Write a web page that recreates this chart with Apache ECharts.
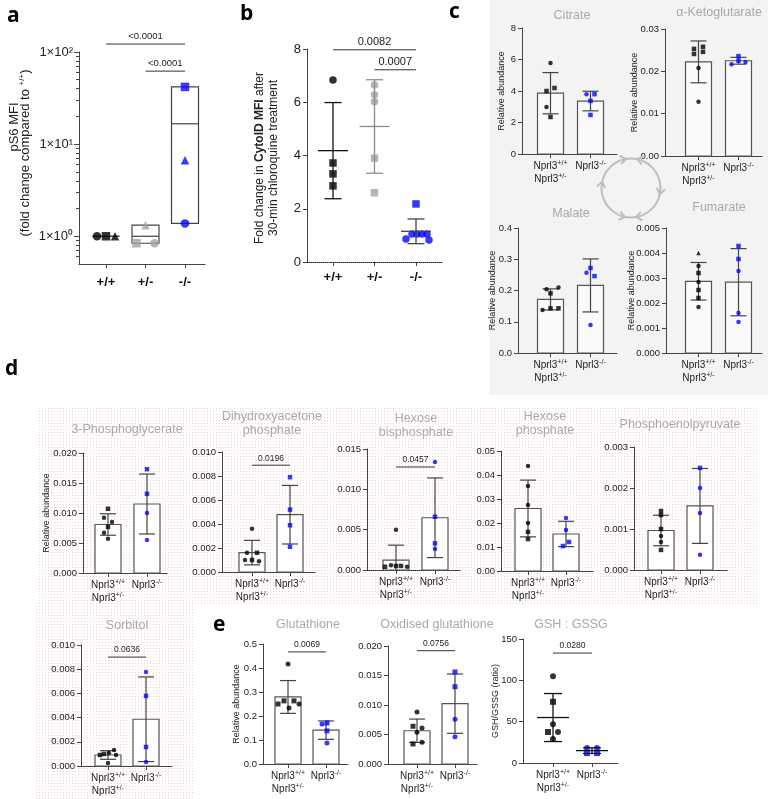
<!DOCTYPE html>
<html><head><meta charset="utf-8">
<script src="https://cdn.jsdelivr.net/npm/echarts@6.0.0/dist/echarts.min.js"></script>
<style>html,body{margin:0;padding:0;background:#fff;}#chart{width:768px;height:799px;}</style>
</head><body><div id="chart"></div>
<script>
// ================= DATA =================
const genotypes = ['+/+', '+/-', '-/-'];

// a: pS6 MFI, fold change compared to +/+ (log axis)
const pS6WT  = [1, 1, 1];
const pS6Het = [1.32, 0.84, 0.84];
const pS6KO  = [41.8, 6.7, 1.38];
const pS6Ticks = [1, 10, 100];
const pS6MinorTicks = [0.6, 0.7, 0.8, 0.9, 2, 3, 4, 5, 6, 7, 8, 9, 20, 30, 40, 50, 60, 70, 80, 90];
const pS6Sig = ['<0.0001', '<0.0001'];

// b: CytoID MFI fold change after chloroquine
const cytoWT  = [6.84, 3.72, 3.31, 2.86];
const cytoHet = [6.65, 6.28, 6.02, 3.9, 2.6];
const cytoKO  = [2.18, 0.86, 1.05, 1.05, 1.05, 1.05, 0.83];
const cytoSig = ['0.0082', '0.0007'];

// c: TCA metabolites (control = Nprl3+/+ & Nprl3+/-, KO = Nprl3-/-)
const citrateCtl  = [5.78, 4.0, 4.19, 2.98, 2.35];
const citrateKO   = [3.8, 3.8, 3.37, 2.48];
const akgCtl      = [0.0253, 0.0258, 0.0246, 0.0241, 0.0208, 0.0128];
const akgKO       = [0.0217, 0.0236, 0.0225, 0.0222];
const malateCtl   = [0.191, 0.21, 0.204, 0.138, 0.143, 0.143];
const malateKO    = [0.257, 0.272, 0.246, 0.09];
const fumarateCtl = [0.004, 0.00348, 0.0032, 0.00284, 0.00252, 0.0022, 0.00184];
const fumarateKO  = [0.00428, 0.00376, 0.00328, 0.0016, 0.00124];

// d: glycolysis metabolites
const pgCtl   = [0.0107, 0.0092, 0.0085, 0.0077, 0.0067, 0.0057];
const pgKO    = [0.0173, 0.0132, 0.01, 0.0055];
const dhapCtl = [0.0036, 0.0016, 0.0016, 0.001, 0.001, 0.0009];
const dhapKO  = [0.0079, 0.0052, 0.0039, 0.0021];
const hbpCtl  = [0.005, 0.0004, 0.0006, 0.0005, 0.0005, 0.0004];
const hbpKO   = [0.0134, 0.0066, 0.0033, 0.0026];
const hpCtl   = [0.0438, 0.0354, 0.0275, 0.02, 0.0163, 0.0133];
const hpKO    = [0.0221, 0.0171, 0.0121, 0.0104];
const pepCtl  = [0.00144, 0.00134, 0.001, 0.00083, 0.00068, 0.00049];
const pepKO   = [0.00249, 0.002, 0.00139, 0.00037];
const sorbCtl = [0.00132, 0.00091, 0.001, 0.00107, 0.00091, 0.00025];
const sorbKO  = [0.00777, 0.00579, 0.00157, 0.00033];

// e: glutathione
const glutCtl   = [0.417, 0.25, 0.263, 0.263, 0.25, 0.233];
const glutKO    = [0.167, 0.171, 0.138, 0.088];
const oxglutCtl = [0.0088, 0.0064, 0.0061, 0.0054, 0.0034, 0.0037];
const oxglutKO  = [0.0156, 0.0131, 0.0076, 0.0046];
const gshCtl    = [105, 74, 47, 37.5, 37.5, 29];
const gshKO     = [18, 18, 12, 12];

// p-values
const pDhap = '0.0196', pHbp = '0.0457', pSorb = '0.0636', pGlut = '0.0069', pOx = '0.0756', pGsh = '0.0280';

// ================= MARKER SHAPES (c circle, s square, t triangle) =================
const shapes = {
  a: ['cst', 'tsc', 'stc'],
  b: ['csss', 'cccss', 'scccccc'],
  citrate: ['csscs', 'csss'],
  akg: ['sssscc', 'cssc'], malate: ['scccss', 'cssc'],
  fumarate: ['tcscssc', 'ssccc'],
  pg: ['sccscc', 'sscc'], dhap: ['ccscsc', 'ssss'], hbp: ['cscssc', 'cssc'],
  hp: ['ccccss', 'ccss'], pep: ['sssccs', 'sccc'], sorb: ['cssccc', 'cssc'],
  glut: ['csssc c'.replace(' ', ''), 'cssc'], oxglut: ['csccsc', 'sscc'], gsh: ['cscscc', 'ccss']
};
// horizontal jitter of points, in pixels from the group centre
const jitter = {
  a: [[-9, 0, 9], [0, -9, 9], [0, 0, 0]],
  b: [[0, 0, 0, 0], [0, 0, 0, 0, 0], [0, -10, -4, 1, 6, 11, 13]],
  citrate: [[0, -4, 4, -4, 0], [-4, 4, 0, 0]],
  akg: [[-4.5, 4.5, 4.5, -4.5, 0, 0], [-7, 0, 0, 7]],
  malate: [[0, 8, -4, -8, 0, 8], [-4, 0, 4, 0]],
  fumarate: [[0, 0, 0, 0, 0, 0, 0], [0, 0, 0, 0, 0]],
  pg: [[0, -4, 4, 0, -4, 0], [0, 0, 0, 0]],
  dhap: [[0, -5, 5, -7, 0, 7], [0, 0, 0, 0]],
  hbp: [[0, -11, -5, 0, 5, 11], [0, 0, 0, 0]],
  hp: [[0, 0, 0, 0, 0, 0], [0, 0, 3, -3]],
  pep: [[0, 0, 0, 0, 0, 0], [0, 0, 0, 0]],
  sorb: [[6, -8, -4, 1, 8, 0], [0, 0, 0, 0]],
  glut: [[0, -10, -4, 6, 11, 1], [-4, 1, 1, 1]],
  oxglut: [[0, -4, 5, 0, -4, 5], [0, 0, 0, 0]],
  gsh: [[0, 0, 0, -5, 5, 0], [-5, 5, -5, 5]]
};

// ================= LAYOUT (pixel frame of each plot) =================
const L = {
  a:        {ax: 79,  right: 205, cx: [106, 145.5, 185], top: 52,  bottom: 264},
  b:        {ax: 307, right: 443, cx: [333, 374.5, 416], top: 49,  bottom: 262},
  citrate:  {ax: 522, right: 617, cx: [550.5, 590.5], top: 28,  bottom: 154},
  akg:      {ax: 665, right: 762, cx: [698.5, 738.5], top: 29,  bottom: 156},
  malate:   {ax: 518, right: 617, cx: [550.5, 590.5], top: 228, bottom: 353},
  fumarate: {ax: 666, right: 762, cx: [698.5, 738.5], top: 228, bottom: 353},
  pg:       {ax: 83,  right: 167, cx: [108, 147], top: 453, bottom: 573},
  dhap:     {ax: 222, right: 315, cx: [252, 290], top: 452, bottom: 572},
  hbp:      {ax: 367, right: 460, cx: [396, 435], top: 449, bottom: 570},
  hp:       {ax: 501, right: 593, cx: [528, 566], top: 451, bottom: 571},
  pep:      {ax: 634, right: 727, cx: [661, 700], top: 447, bottom: 570},
  sorb:     {ax: 81,  right: 172, cx: [108, 146], top: 645, bottom: 766},
  glut:     {ax: 263, right: 348, cx: [288, 326], top: 644, bottom: 764},
  oxglut:   {ax: 388, right: 477, cx: [417, 455], top: 646, bottom: 764},
  gsh:      {ax: 523, right: 618, cx: [553, 592], top: 639, bottom: 763}
};

// ================= BUILD =================
const F = '"Liberation Sans", Arial, Helvetica, sans-serif';
const FB = '"Open Sans", "Liberation Sans", Arial, sans-serif';
const BLUE = '#0505ff', BLACK = '#000000', GREY = '#a3a3a3', AX = '#444444', TITLE = '#a9a9a9';
const SYM = {c: 'circle', s: 'rect', t: 'triangle'};
const mean = a => a.reduce((s, v) => s + v, 0) / a.length;
const sd = a => { const m = mean(a); return Math.sqrt(a.reduce((s, v) => s + (v - m) * (v - m), 0) / (a.length - 1)); };

const option = {animation: false, backgroundColor: '#ffffff', textStyle: {fontFamily: F},
  grid: [], xAxis: [], yAxis: [], series: [], graphic: []};

function addGrid(lay, yCfg, xCfg) {
  const idx = option.grid.length;
  const n = lay.cx.length;
  const unit = (lay.cx[n - 1] - lay.cx[0]) / (n - 1);
  const cats = Array.from({length: n}, (_, i) => i);
  option.grid.push({left: lay.ax, top: lay.top, width: lay.right - lay.ax, height: lay.bottom - lay.top});
  option.xAxis.push(Object.assign({
    gridIndex: idx, type: 'value',
    min: -(lay.cx[0] - lay.ax) / unit, max: (n - 1) + (lay.right - lay.cx[n - 1]) / unit,
    axisLine: {show: true, onZero: false, lineStyle: {color: AX, width: 1}},
    axisTick: {show: true, length: 4, lineStyle: {color: AX}, customValues: cats},
    splitLine: {show: false}
  }, xCfg));
  option.yAxis.push(Object.assign({
    gridIndex: idx, type: 'value', position: 'left',
    axisLine: {show: true, onZero: false, lineStyle: {color: AX, width: 1}},
    axisTick: {show: true, length: 4, lineStyle: {color: AX}},
    splitLine: {show: false}
  }, yCfg));
  return {idx, unit};
}

const nprlRich = {
  n: {fontSize: 10, fontFamily: F, color: '#222', lineHeight: 13},
  s: {fontSize: 7, fontFamily: F, color: '#222', lineHeight: 7, verticalAlign: 'top'}
};
const nprlLabel = v => v === 0 ? '{n|Nprl3}{s|+/+}\n{n|Nprl3}{s|+/-}' : (v === 1 ? '{n|Nprl3}{s|-/-}' : '');

function scatterSeries(idx, unit, groups, shp, jit, colors, size) {
  groups.forEach((g, i) => option.series.push({
    type: 'scatter', xAxisIndex: idx, yAxisIndex: idx, z: 5, silent: true, symbolSize: size,
    itemStyle: {color: colors[i]},
    data: g.map((v, k) => ({value: [i + jit[i][k] / unit, v], symbol: SYM[shp[i][k]]}))
  }));
}

function bracket(idx, x1, x2, y, text, fs) {
  option.series.push({
    type: 'custom', xAxisIndex: idx, yAxisIndex: idx, silent: true, z: 6, clip: false,
    data: [[x1, x2, y]],
    renderItem: (p, api) => {
      const a = api.coord([api.value(0), api.value(2)]);
      const b = api.coord([api.value(1), api.value(2)]);
      return {type: 'group', children: [
        {type: 'line', shape: {x1: a[0], y1: a[1], x2: b[0], y2: b[1]}, style: {stroke: '#333', lineWidth: 1}},
        {type: 'text', x: (a[0] + b[0]) / 2, y: a[1] - 2.5,
          style: {text: text, fontSize: fs, fontFamily: F, fill: '#222', align: 'center', verticalAlign: 'bottom'}}
      ]};
    }
  });
}

function barPanel(key, ctl, ko, yMax, step, dec, opts) {
  opts = opts || {};
  const lay = L[key];
  const {idx, unit} = addGrid(lay,
    {min: 0, max: yMax, interval: step,
     axisLabel: {formatter: v => v.toFixed(dec), fontSize: 9.5, color: '#222', margin: 6, fontFamily: F}},
    {axisLabel: {customValues: [0, 1], formatter: nprlLabel, rich: nprlRich, margin: 6, interval: 0},
     axisLine: {show: true, onZero: false, lineStyle: {color: opts.dotted ? '#222' : AX, width: 1, type: opts.dotted ? 'dotted' : 'solid'}}});
  const groups = [ctl, ko];
  option.series.push({
    type: 'custom', xAxisIndex: idx, yAxisIndex: idx, silent: true, z: 2, clip: false,
    data: groups.map((g, i) => [i, mean(g), sd(g)]),
    renderItem: (p, api) => {
      const x = api.value(0), m = api.value(1), s = api.value(2);
      const p0 = api.coord([x, 0]), pm = api.coord([x, m]);
      const pt = api.coord([x, m + s]), pb = api.coord([x, Math.max(m - s, 0)]);
      const bw = 26, cw = 16;
      const ch = [
        {type: 'rect', shape: {x: p0[0] - bw / 2, y: pm[1], width: bw, height: p0[1] - pm[1]},
          style: {fill: opts.fill || '#ffffff', stroke: '#555', lineWidth: 1.2}},
        {type: 'line', shape: {x1: pt[0], y1: pt[1], x2: pb[0], y2: pb[1]}, style: {stroke: '#444', lineWidth: 1.2}},
        {type: 'line', shape: {x1: pt[0] - cw / 2, y1: pt[1], x2: pt[0] + cw / 2, y2: pt[1]}, style: {stroke: '#444', lineWidth: 1.2}}
      ];
      if (m - s > 0) ch.push({type: 'line', shape: {x1: pb[0] - cw / 2, y1: pb[1], x2: pb[0] + cw / 2, y2: pb[1]}, style: {stroke: '#444', lineWidth: 1.2}});
      return {type: 'group', children: ch};
    }
  });
  scatterSeries(idx, unit, groups, shapes[key], jitter[key], [BLACK, BLUE], opts.size || 4.5);
  if (opts.sig) bracket(idx, 0, 1, opts.sigY, opts.sig, 8.5);
  return idx;
}

function meanSdRender(colors, lineW, capW, lw) {
  return (p, api) => {
    const x = api.value(0), m = api.value(1), s = api.value(2);
    const pm = api.coord([x, m]), pt = api.coord([x, m + s]), pb = api.coord([x, m - s]);
    const st = {stroke: colors[p.dataIndex], lineWidth: lw};
    return {type: 'group', children: [
      {type: 'line', shape: {x1: pm[0] - lineW / 2, y1: pm[1], x2: pm[0] + lineW / 2, y2: pm[1]}, style: st},
      {type: 'line', shape: {x1: pt[0], y1: pt[1], x2: pb[0], y2: pb[1]}, style: st},
      {type: 'line', shape: {x1: pt[0] - capW / 2, y1: pt[1], x2: pt[0] + capW / 2, y2: pt[1]}, style: st},
      {type: 'line', shape: {x1: pb[0] - capW / 2, y1: pb[1], x2: pb[0] + capW / 2, y2: pb[1]}, style: st}
    ]};
  };
}

// ---------- panel a ----------
let gridA = 0;
(function () {
  const supDigits = ['⁰', '¹', '²', '³'];
  const {idx, unit} = addGrid(L.a,
    {type: 'log', logBase: 10, min: 0.5, max: 100,
     axisTick: {show: true, length: 5, lineStyle: {color: AX}, customValues: pS6Ticks},
     axisLabel: {customValues: pS6Ticks, fontSize: 13, color: '#222', margin: 6,
       formatter: v => '1×10' + supDigits[Math.round(Math.log10(v))]}},
    {axisLabel: {customValues: [0, 1, 2], formatter: v => genotypes[v] || '', fontSize: 13, fontWeight: 'bold', color: '#111', margin: 12}});
  gridA = idx;
  const groups = [pS6WT, pS6Het, pS6KO];
  option.series.push({
    type: 'custom', xAxisIndex: idx, yAxisIndex: idx, silent: true, z: 2, clip: false,
    data: groups.map((g, i) => [i, Math.min(...g), Math.max(...g), mean(g)]),
    renderItem: (p, api) => {
      const x = api.value(0);
      const lo = api.coord([x, api.value(1)]), hi = api.coord([x, api.value(2)]), mn = api.coord([x, api.value(3)]);
      const bw = 27;
      return {type: 'group', children: [
        {type: 'rect', shape: {x: lo[0] - bw / 2, y: hi[1], width: bw, height: lo[1] - hi[1]}, style: {fill: 'none', stroke: '#444', lineWidth: 1.2}},
        {type: 'line', shape: {x1: mn[0] - bw / 2, y1: mn[1], x2: mn[0] + bw / 2, y2: mn[1]}, style: {stroke: '#444', lineWidth: 1.2}}
      ]};
    }
  });
  scatterSeries(idx, unit, groups, shapes.a, jitter.a, [BLACK, GREY, BLUE], 8.5);
  bracket(idx, 0, 2, 122, pS6Sig[0], 9.5);
  bracket(idx, 1, 2, 62, pS6Sig[1], 9.5);
})();

// ---------- panel b ----------
(function () {
  const {idx, unit} = addGrid(L.b,
    {min: 0, max: 8, interval: 2, axisLabel: {fontSize: 13, color: '#222', margin: 6}},
    {axisLabel: {customValues: [0, 1, 2], formatter: v => genotypes[v] || '', fontSize: 13, fontWeight: 'bold', color: '#111', margin: 9},
     axisLine: {show: true, onZero: false, lineStyle: {color: '#222', width: 1, type: 'dotted'}}});
  const groups = [cytoWT, cytoHet, cytoKO];
  option.series.push({
    type: 'custom', xAxisIndex: idx, yAxisIndex: idx, silent: true, z: 6, clip: false,
    data: groups.map((g, i) => [i, mean(g), sd(g)]),
    renderItem: meanSdRender(['#111', '#8c8c8c', '#444'], 30, 17, 1.3)
  });
  scatterSeries(idx, unit, groups, shapes.b, jitter.b, [BLACK, GREY, BLUE], 7.5);
  bracket(idx, 0, 2, 7.97, cytoSig[0], 11);
  bracket(idx, 1, 2, 7.22, cytoSig[1], 11);
})();

// ---------- panel c ----------
barPanel('citrate', citrateCtl, citrateKO, 8, 2, 0, {fill: '#fafafa'});
barPanel('akg', akgCtl, akgKO, 0.03, 0.01, 2, {fill: '#fafafa'});
barPanel('malate', malateCtl, malateKO, 0.4, 0.1, 1, {fill: '#fafafa'});
barPanel('fumarate', fumarateCtl, fumarateKO, 0.005, 0.001, 3, {fill: '#fafafa'});

// ---------- panel d ----------
barPanel('pg', pgCtl, pgKO, 0.02, 0.005, 3);
barPanel('dhap', dhapCtl, dhapKO, 0.01, 0.002, 3, {sig: pDhap, sigY: 0.0089});
barPanel('hbp', hbpCtl, hbpKO, 0.015, 0.005, 3, {sig: pHbp, sigY: 0.01277, dotted: true});
barPanel('hp', hpCtl, hpKO, 0.05, 0.01, 2);
barPanel('pep', pepCtl, pepKO, 0.003, 0.001, 3);
barPanel('sorb', sorbCtl, sorbKO, 0.01, 0.002, 3, {sig: pSorb, sigY: 0.009});

// ---------- panel e ----------
barPanel('glut', glutCtl, glutKO, 0.5, 0.1, 1, {sig: pGlut, sigY: 0.467, size: 5});
barPanel('oxglut', oxglutCtl, oxglutKO, 0.02, 0.005, 3, {sig: pOx, sigY: 0.0192, size: 5});
(function () {
  const {idx, unit} = addGrid(L.gsh,
    {min: 0, max: 150, interval: 50, axisLabel: {fontSize: 9.5, color: '#222', margin: 6}},
    {axisLabel: {customValues: [0, 1], formatter: nprlLabel, rich: nprlRich, margin: 6}});
  const groups = [gshCtl, gshKO];
  option.series.push({
    type: 'custom', xAxisIndex: idx, yAxisIndex: idx, silent: true, z: 6, clip: false,
    data: groups.map((g, i) => [i, mean(g), sd(g)]),
    renderItem: meanSdRender(['#111', '#111'], 32, 18, 1.3)
  });
  scatterSeries(idx, unit, groups, shapes.gsh, jitter.gsh, [BLACK, BLUE], 6);
  bracket(idx, 0, 1, 133, pGsh, 8.5);
})();

// minor log ticks for panel a (extra axis overlaid on panel a's grid, added last)
option.yAxis.push({gridIndex: gridA, type: 'log', logBase: 10, min: 0.5, max: 100, position: 'left', offset: 0,
  axisLine: {show: false, onZero: false}, axisLabel: {show: false}, splitLine: {show: false},
  axisTick: {show: true, length: 3, lineStyle: {color: AX}, customValues: pS6MinorTicks}});

// ================= GRAPHIC DECORATION & TEXT =================
function patternCanvas() {
  const c = document.createElement('canvas'); c.width = 3; c.height = 3;
  const g = c.getContext('2d');
  g.fillStyle = '#ffffff'; g.fillRect(0, 0, 3, 3);
  g.fillStyle = '#f5d2d2'; g.fillRect(0, 0, 1, 1);
  return c;
}
const pat = {image: patternCanvas(), repeat: 'repeat'};
const G = option.graphic;
G.push({type: 'rect', z: -10, shape: {x: 490, y: 0, width: 278, height: 395}, style: {fill: '#f3f3f3'}});
G.push({type: 'rect', z: -10, shape: {x: 38, y: 408, width: 719, height: 196}, style: {fill: pat}});
G.push({type: 'rect', z: -10, shape: {x: 35, y: 604, width: 158, height: 195}, style: {fill: pat}});

// TCA cycle
const CYC = {cx: 631, cy: 188, r: 29.5};
G.push({type: 'circle', z: 1, shape: {cx: CYC.cx, cy: CYC.cy, r: CYC.r}, style: {fill: 'none', stroke: '#bdbdbd', lineWidth: 2}});
function chevron(deg, dir) {
  const a = deg * Math.PI / 180;
  const tx = CYC.cx + CYC.r * Math.cos(a), ty = CYC.cy + CYC.r * Math.sin(a);
  const dx = -Math.sin(a) * dir, dy = Math.cos(a) * dir;
  const Lh = 7, sp = 0.65;
  const back = s => [tx - Lh * (dx * Math.cos(s) - dy * Math.sin(s)), ty - Lh * (dx * Math.sin(s) + dy * Math.cos(s))];
  return {type: 'polyline', z: 1, shape: {points: [back(sp), [tx, ty], back(-sp)]}, style: {stroke: '#bdbdbd', lineWidth: 2, fill: 'none'}};
}
[[-100, 1], [-78, -1], [12, 1], [102, -1], [80, 1], [192, 1]].forEach(([d, s]) => G.push(chevron(d, s)));

// panel letters
[['a', 7, 16], ['b', 240, 14], ['c', 449, 12], ['d', 5, 369], ['e', 213, 625]].forEach(([t, x, y]) =>
  G.push({type: 'text', z: 100, x: x, y: y, style: {text: t, fontSize: 21, fontWeight: 'bold', fontFamily: FB, fill: '#000', align: 'left', verticalAlign: 'middle'}}));

// chart titles
[['Citrate', 572, 16], ['α-Ketoglutarate', 719, 13], ['Malate', 571, 214], ['Fumarate', 719, 208],
 ['3-Phosphoglycerate', 127, 430], ['Dihydroxyacetone\nphosphate', 272, 424], ['Hexose\nbisphosphate', 416, 426],
 ['Hexose\nphosphate', 545, 423.5], ['Phosphoenolpyruvate', 680, 425], ['Sorbitol', 127, 626],
 ['Glutathione', 308, 625], ['Oxidised glutathione', 437, 625], ['GSH : GSSG', 571, 625]
].forEach(([t, x, y]) => G.push({type: 'text', z: 100, x: x, y: y,
  style: {text: t, fontSize: 12.5, lineHeight: 14, fontFamily: F, fill: TITLE, align: 'center', verticalAlign: 'middle'}}));

// rotated axis names
function vtext(text, x, y, fs, rich) {
  G.push({type: 'text', z: 100, x: x, y: y, rotation: Math.PI / 2,
    style: {text: text, fontSize: fs, fontFamily: F, fill: '#222', align: 'center', verticalAlign: 'middle', rich: rich || {}}});
}
const midY = k => (L[k].top + L[k].bottom) / 2;
vtext('Relative abundance', 502, midY('citrate'), 9);
vtext('Relative abundance', 635, midY('akg'), 9);
vtext('Relative abundance', 493, midY('malate'), 9);
vtext('Relative abundance', 632, midY('fumarate'), 9);
vtext('Relative abundance', 47, midY('pg'), 9);
vtext('Relative abundance', 237, midY('glut'), 9);
vtext('GSH/GSSG (ratio)', 496, midY('gsh'), 9);
vtext('pS6 MFI', 14, 127, 13);
vtext('{n|(fold change compared to }{s|+/+}{n|)}', 25, 153, 13,
  {n: {fontSize: 13, fontFamily: F, color: '#222', lineHeight: 15}, s: {fontSize: 8, fontFamily: F, color: '#222', lineHeight: 8, verticalAlign: 'top'}});
vtext('{n|Fold change in }{b|CytoID MFI}{n| after}', 260, 158, 12,
  {n: {fontSize: 12, fontFamily: F, color: '#222'}, b: {fontSize: 12, fontFamily: F, color: '#111', fontWeight: 'bold'}});
vtext('30-min chloroquine treatment', 274, 158, 12);

const chart = echarts.init(document.getElementById('chart'), null, {renderer: 'canvas', width: 768, height: 799});
chart.setOption(option);
</script></body></html>
